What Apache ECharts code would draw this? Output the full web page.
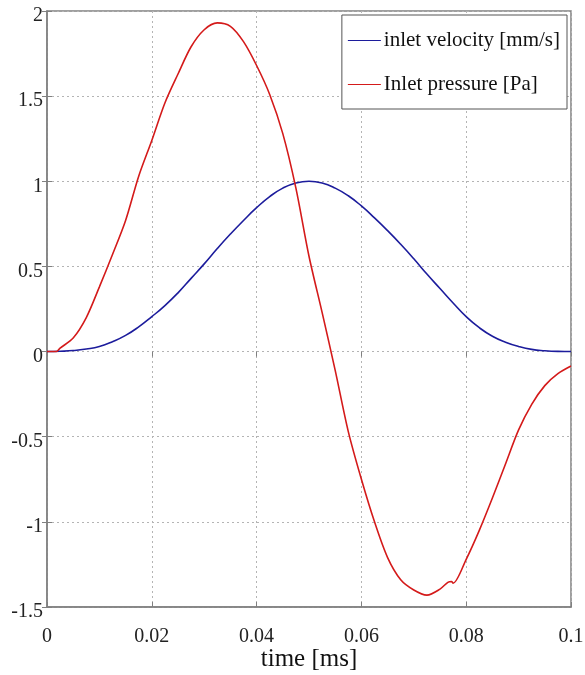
<!DOCTYPE html>
<html>
<head>
<meta charset="utf-8">
<script src="https://cdn.jsdelivr.net/npm/echarts@6/dist/echarts.min.js"></script>
<style>html,body{margin:0;padding:0;background:#fff;}#c{width:585px;height:675px;}</style>
</head>
<body>
<div id="c"></div>
<script>
var velTime = [0,0.0025,0.005,0.0075,0.01,0.0125,0.015,0.0175,0.02,0.0225,0.025,0.0275,0.03,0.0325,0.035,0.0375,0.04,0.0425,0.045,0.0475,0.05,0.0525,0.055,0.0575,0.06,0.0625,0.065,0.0675,0.07,0.0725,0.075,0.0775,0.08,0.0825,0.085,0.0875,0.09,0.0925,0.095,0.0975,0.1];
var velocity = [0,0.002,0.006,0.015,0.03,0.058,0.095,0.145,0.205,0.27,0.345,0.43,0.515,0.605,0.69,0.77,0.845,0.91,0.96,0.99,1.0,0.99,0.96,0.915,0.855,0.785,0.71,0.63,0.545,0.455,0.37,0.285,0.205,0.14,0.09,0.055,0.03,0.013,0.005,0.001,0];
var presTime = [0,0.0018,0.0025,0.005,0.0075,0.01,0.0125,0.015,0.0175,0.02,0.0225,0.025,0.0275,0.03,0.0325,0.035,0.0375,0.04,0.0425,0.045,0.0475,0.05,0.0525,0.055,0.0575,0.06,0.0625,0.065,0.0675,0.07,0.0725,0.075,0.0765,0.0772,0.0775,0.08,0.0825,0.085,0.0875,0.09,0.0925,0.095,0.0975,0.1];
var pressure = [0,0,0.02,0.08,0.2,0.38,0.57,0.77,1.03,1.24,1.46,1.63,1.79,1.89,1.93,1.91,1.82,1.68,1.51,1.28,0.96,0.56,0.23,-0.11,-0.47,-0.75,-1.0,-1.21,-1.34,-1.40,-1.43,-1.395,-1.355,-1.35,-1.36,-1.22,-1.05,-0.86,-0.66,-0.46,-0.31,-0.2,-0.13,-0.085];
var seriesNames = ['inlet velocity [mm/s]','Inlet pressure [Pa]'];
var xLabel = 'time [ms]';

function pairs(t, v){ return t.map(function(x,i){ return [x, v[i]]; }); }

var font = 'Liberation Serif';
var chart = echarts.init(document.getElementById('c'), null, {renderer:'canvas'});
var gridLine = {show:true, lineStyle:{color:'#b4b4b4', type:[2,3], width:1}};
chart.setOption({
  animation:false,
  backgroundColor:'#fff',
  grid:{left:47, right:14, top:11, bottom:68, containLabel:false, outerBoundsMode:'none',
        show:true, borderColor:'#808080', borderWidth:1.5, backgroundColor:'transparent'},
  legend:{
    orient:'vertical', right:18, top:15,
    backgroundColor:'#fff', borderColor:'#555', borderWidth:1,
    padding:[15,7,14,6], itemGap:23, itemWidth:33, itemHeight:10,
    icon:'path://M0,4.5L33,4.5L33,5.5L0,5.5Z',
    textStyle:{fontFamily:font, fontSize:21, color:'#111', padding:[0,0,0,-2]},
    data:seriesNames
  },
  xAxis:[{
    type:'value', min:0, max:0.1, interval:0.02,
    name:xLabel, nameLocation:'middle', nameGap:40, nameMoveOverlap:false,
    nameTextStyle:{fontFamily:font, fontSize:25, color:'#111'},
    axisLine:{show:true, onZero:false, lineStyle:{color:'#808080', width:1.5}},
    axisTick:{show:true, inside:true, length:5, lineStyle:{color:'#808080'}},
    axisLabel:{fontFamily:font, fontSize:20, color:'#222', margin:20},
    splitLine:gridLine
  },{
    type:'value', position:'top', min:0, max:0.1, interval:0.02,
    axisLine:{show:false}, axisTick:{show:true, inside:true, length:5, lineStyle:{color:'#808080'}},
    axisLabel:{show:false}, splitLine:{show:false}
  }],
  yAxis:[{
    type:'value', min:-1.5, max:2, interval:0.5,
    axisLine:{show:true, onZero:false, lineStyle:{color:'#808080', width:1.5}},
    axisTick:{show:true, inside:true, length:5, lineStyle:{color:'#808080'}},
    axisLabel:{fontFamily:font, fontSize:20, color:'#222', margin:4,
      formatter:function(v){ return '{a|' + v + '}'; },
      rich:{a:{fontFamily:font, fontSize:20, color:'#222', padding:[10,0,0,0]}}},
    splitLine:gridLine
  },{
    type:'value', position:'right', min:-1.5, max:2, interval:0.5,
    axisLine:{show:false}, axisTick:{show:true, inside:true, length:5, lineStyle:{color:'#808080'}},
    axisLabel:{show:false}, splitLine:{show:false}
  }],
  series:[{
    name:seriesNames[0], type:'line', data:pairs(velTime, velocity),
    showSymbol:false, smooth:0.5, lineStyle:{color:'#1c1c9c', width:1.6}, itemStyle:{color:'#1c1c9c'}
  },{
    name:seriesNames[1], type:'line', data:pairs(presTime, pressure),
    showSymbol:false, smooth:0.3, lineStyle:{color:'#d41a1a', width:1.6}, itemStyle:{color:'#d41a1a'}
  }]
});
</script>
</body>
</html>
